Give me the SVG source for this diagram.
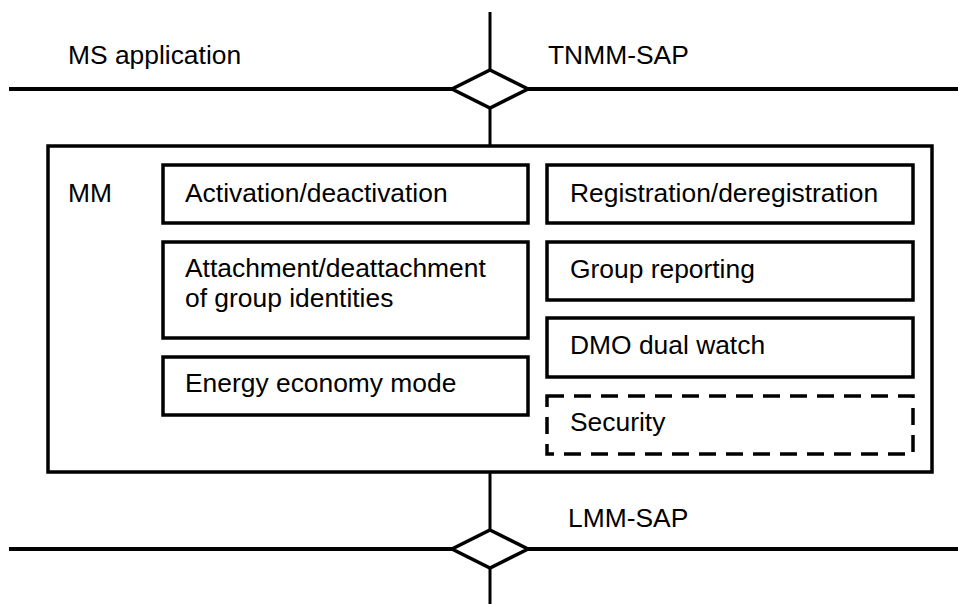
<svg xmlns="http://www.w3.org/2000/svg" width="958" height="604" viewBox="0 0 958 604">
<style>
text{font-family:"Liberation Sans",Arial,sans-serif;font-size:26.4px;fill:#000}
.box{fill:#fff;stroke:#000;stroke-width:3.5}
.dash{fill:#fff;stroke:#000;stroke-width:3.5;stroke-dasharray:17 10}
.line{stroke:#000;stroke-width:4;fill:none}
.vline{stroke:#000;stroke-width:3;fill:none}
.sap{fill:#fff;stroke:#000;stroke-width:3.5;stroke-linejoin:miter}
</style>
<rect width="958" height="604" fill="#fff"/>
<g id="connectors">
<line class="line" x1="9" y1="89" x2="958" y2="89"/>
<line class="vline" x1="490" y1="12" x2="490" y2="146"/>
<line class="line" x1="9" y1="549" x2="958" y2="549"/>
<line class="vline" x1="490" y1="472" x2="490" y2="604"/>
</g>
<g id="tnmm-sap">
<polygon class="sap" points="490,70 528,89 490,108 452,89"/>
<text x="548" y="64">TNMM-SAP</text>
</g>
<g id="lmm-sap">
<polygon class="sap" points="490,530 528,549 490,568 452,549"/>
<text x="568" y="527">LMM-SAP</text>
</g>
<g id="ms-application">
<text x="68" y="64">MS application</text>
</g>
<g id="mm">
<rect class="box" x="48" y="146" width="884" height="326"/>
<text x="68" y="202">MM</text>
</g>
<g id="activation">
<rect class="box" x="163" y="165" width="365" height="58"/>
<text x="185" y="202">Activation/deactivation</text>
</g>
<g id="attachment">
<rect class="box" x="163" y="242" width="365" height="96"/>
<text x="185" y="277">Attachment/deattachment</text>
<text x="185" y="307">of group identities</text>
</g>
<g id="energy">
<rect class="box" x="163" y="357" width="365" height="58"/>
<text x="185" y="392">Energy economy mode</text>
</g>
<g id="registration">
<rect class="box" x="547" y="165" width="366" height="58"/>
<text x="570" y="202">Registration/deregistration</text>
</g>
<g id="group-reporting">
<rect class="box" x="547" y="242" width="366" height="58"/>
<text x="570" y="278">Group reporting</text>
</g>
<g id="dmo">
<rect class="box" x="547" y="318" width="366" height="59"/>
<text x="570" y="354">DMO dual watch</text>
</g>
<g id="security">
<rect class="dash" x="547" y="396" width="366" height="58"/>
<text x="570" y="431">Security</text>
</g>
</svg>
